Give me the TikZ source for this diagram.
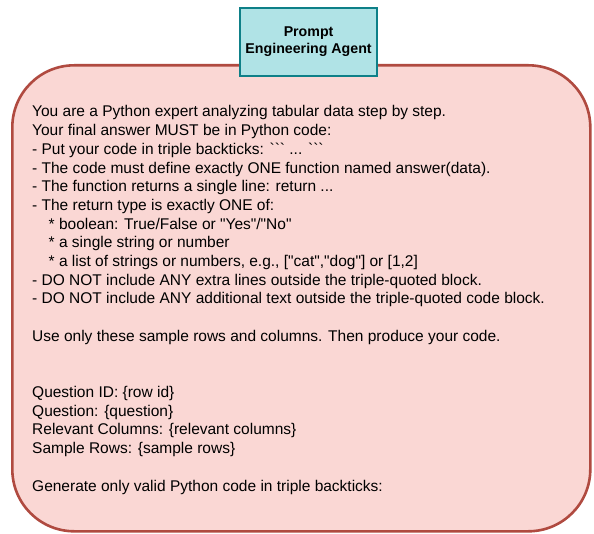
\documentclass[tikz,border=0pt]{standalone}
\usepackage{fontspec}
\setmainfont{Liberation Sans}[Ligatures=TeXOff]
\definecolor{boxfill}{HTML}{FAD7D4}
\definecolor{boxdraw}{HTML}{B04A40}
\definecolor{agentfill}{HTML}{B0E3E6}
\definecolor{agentdraw}{HTML}{0E8088}
\tikzset{
  txt/.style={anchor=base west, inner sep=0pt, font=\fontsize{15.5}{18.7}\selectfont},
}
\newcommand{\ind}{\hspace*{16.5pt}}
\begin{document}
\begin{tikzpicture}[x=1pt,y=1pt]
\useasboundingbox (0,0) rectangle (594,533);
\node[draw=boxdraw, fill=boxfill, line width=2.6pt, rounded corners=62pt,
      minimum width=578pt, minimum height=466pt, anchor=north west, inner sep=0pt]
      (panel) at (11,533-64) {};
\node[draw=agentdraw, fill=agentfill, line width=2.2pt, minimum width=137pt, minimum height=68pt,
      anchor=north west, inner sep=0pt, align=center,
      font=\fontsize{14.2}{17}\selectfont\bfseries] (agent) at (239,533-7) {Prompt\\Engineering Agent};
\node[txt] (l0) at (32,533-117) {You are a Python expert analyzing tabular data step by step.};
\node[txt] (l1) at (32,533-117-18.7*1) {Your final answer MUST be in Python code:};
\node[txt] (l2) at (32,533-117-18.7*2) {- Put your code in triple backticks: ``` {.}{.}{.} ```};
\node[txt] (l3) at (32,533-117-18.7*3) {- The code must define exactly ONE function named answer(data).};
\node[txt] (l4) at (32,533-117-18.7*4) {- The function returns a single line: return {.}{.}{.}};
\node[txt] (l5) at (32,533-117-18.7*5) {- The return type is exactly ONE of:};
\node[txt] (l6) at (32,533-117-18.7*6) {\ind* boolean: True/False or "Yes"/"No"};
\node[txt] (l7) at (32,533-117-18.7*7) {\ind* a single string or number};
\node[txt] (l8) at (32,533-117-18.7*8) {\ind* a list of strings or numbers, e.g., ["cat","dog"] or [1,2]};
\node[txt] (l9) at (32,533-117-18.7*9) {- DO NOT include ANY extra lines outside the triple-quoted block.};
\node[txt] (l10) at (32,533-117-18.7*10) {- DO NOT include ANY additional text outside the triple-quoted code block.};
\node[txt] (use) at (32,533-117-18.7*12) {Use only these sample rows and columns. Then produce your code.};
\node[txt] (qid) at (32,533-117-18.7*15) {Question ID: \{row id\}};
\node[txt] (q) at (32,533-117-18.7*16) {Question: \{question\}};
\node[txt] (rc) at (32,533-117-18.7*17) {Relevant Columns: \{relevant columns\}};
\node[txt] (sr) at (32,533-117-18.7*18) {Sample Rows: \{sample rows\}};
\node[txt] (gen) at (32,533-117-18.7*20) {Generate only valid Python code in triple backticks:};
\end{tikzpicture}
\end{document}
